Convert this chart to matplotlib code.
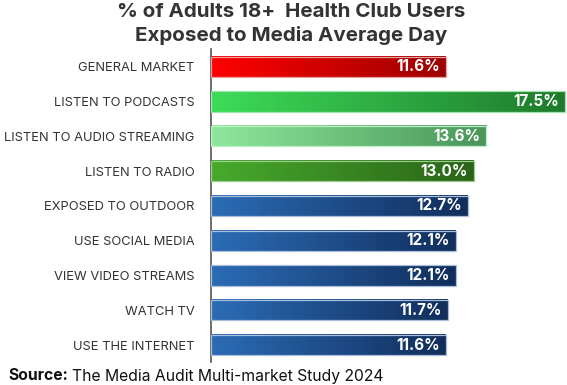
import matplotlib
matplotlib.use('Agg')
import matplotlib.pyplot as plt
import numpy as np
from matplotlib.colors import LinearSegmentedColormap

plt.rcParams['font.family'] = ['Inter', 'DejaVu Sans']

# data
categories = ["GENERAL MARKET", "LISTEN TO PODCASTS", "LISTEN TO AUDIO STREAMING",
              "LISTEN TO RADIO", "EXPOSED TO OUTDOOR", "USE SOCIAL MEDIA",
              "VIEW VIDEO STREAMS", "WATCH TV", "USE THE INTERNET"]
values = [11.6, 17.5, 13.6, 13.0, 12.7, 12.1, 12.1, 11.7, 11.6]
value_labels = ["11.6%", "17.5%", "13.6%", "13.0%", "12.7%", "12.1%", "12.1%", "11.7%", "11.6%"]

# gradient colours (left, right) and edge
red = ("#FF0000", "#9C0000", "#E8A0A0")
podcast = ("#3DDC58", "#1E7A2C", "#9FE6AC")
stream = ("#8EE89C", "#4A955A", "#BDEFC4")
radio = ("#47AA2C", "#2A6418", "#9CCB8E")
blue = ("#2B6CB6", "#112E5C", "#A8BEDA")
styles = [red, podcast, stream, radio, blue, blue, blue, blue, blue]

fig = plt.figure(figsize=(5.67, 3.85), dpi=100)
ax = fig.add_axes([211 / 567, 1 - 362.4 / 385, 356 / 567, 313 / 385])

ypos = np.arange(len(categories))
h = 0.58
grad = np.linspace(0, 1, 256).reshape(1, -1)
for y, v, lab, (c0, c1, ec) in zip(ypos, values, value_labels, styles):
    cmap = LinearSegmentedColormap.from_list("g", [c0, c1])
    ax.imshow(grad, cmap=cmap, aspect='auto', extent=(0, v, y + h / 2, y - h / 2),
              zorder=2, interpolation='bicubic')
    ax.barh(y, v, height=h, facecolor='none', edgecolor=ec, linewidth=0.9, zorder=3)
    ax.text(v - 0.3, y, lab, ha='right', va='center', color='white',
            fontsize=11, fontweight='bold', zorder=4)

ax.set_xlim(0, 17.6)
ax.set_ylim(len(categories) - 0.5, -0.5)
ax.set_yticks(ypos)
ax.set_yticklabels(categories, fontsize=9.3, color='#333333')
ax.tick_params(axis='y', length=0, pad=12)
ax.set_xticks([])
for s in ['top', 'right', 'bottom']:
    ax.spines[s].set_visible(False)
ax.spines['left'].set_color('#555555')
ax.spines['left'].set_linewidth(1.2)

fig.text(0.513, 0.992, "% of Adults 18+  Health Club Users\nExposed to Media Average Day",
         ha='center', va='top', fontsize=14.8, fontweight='bold', color='#333333',
         linespacing=1.35)

t = fig.text(8 / 567, 1 - 376 / 385, "Source:", ha='left', va='center',
             fontsize=11.3, fontweight='bold', color='#111111')
fig.canvas.draw()
bb = t.get_window_extent()
fig.text((bb.x1 + 4) / 567, 1 - 376 / 385, "The Media Audit Multi-market Study 2024",
         ha='left', va='center', fontsize=11.3, color='#111111')

fig.savefig("out.png", dpi=100)
